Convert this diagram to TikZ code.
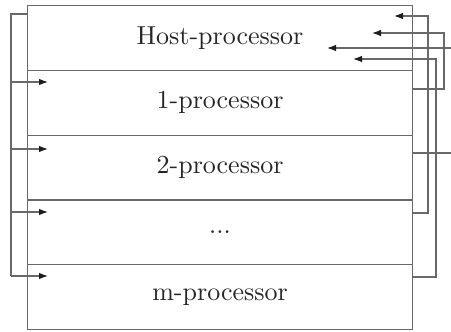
\documentclass[tikz,border=0pt]{standalone}
\usepackage{fontspec}
\usetikzlibrary{arrows.meta}
\newfontfamily\rowfont{lmroman10-regular.otf}
\definecolor{linegray}{RGB}{105,105,105}
\definecolor{tipgray}{RGB}{30,30,30}
\begin{document}
\begin{tikzpicture}[x=1pt,y=-1pt,
  row/.style={draw=linegray, line width=1.1pt, minimum width=385pt,
    minimum height=64.8pt, inner sep=0pt, anchor=north west,
    font=\rowfont\fontsize{26}{31}\selectfont, text=black!85},
  wire/.style={draw=linegray, line width=1.1pt},
  feed/.style={wire, -{Latex[length=9pt,width=6.5pt,color=tipgray]}}]
\useasboundingbox (0,0) rectangle (451,332);

% stacked processor rows
\node[row] (host) at (27,5)     {Host-processor};
\node[row] (p1)   at (27,69.8)  {1-processor};
\node[row] (p2)   at (27,134.6) {2-processor};
\node[row] (pd)   at (27,199.4) {...};
\node[row] (pm)   at (27,264.2) {m-processor};

% left distribution bus
\coordinate (bustop) at (11,14);
\coordinate (b1) at (11,82);
\coordinate (b2) at (11,149);
\coordinate (b3) at (11,212);
\coordinate (b4) at (11,276);
\draw[wire] (host.west |- bustop) -- (bustop) -- (b4);
\draw[feed] (b1) -- ([xshift=21pt]p1.west |- b1);
\draw[feed] (b2) -- ([xshift=21pt]p2.west |- b2);
\draw[feed] (b3) -- ([xshift=21pt]pd.west |- b3);
\draw[feed] (b4) -- ([xshift=21pt]pm.west |- b4);

% right return paths into the host row
\coordinate (ra) at (428,16);
\coordinate (rb) at (444,33);
\coordinate (rc) at (451,48);
\coordinate (rd) at (436,59);
\coordinate (ta) at (394,16);
\coordinate (tb) at (372,33);
\coordinate (tc) at (327,48);
\coordinate (td) at (353,59);
\coordinate (oa) at (428,213);
\coordinate (ob) at (444,89);
\coordinate (od) at (436,277);
\coordinate (oe) at (451,153);

\draw[feed] (pd.east |- oa) -- (oa) -- (ra) -- (ta);
\draw[feed] (p1.east |- ob) -- (ob) -- (rb) -- (tb);
\draw[feed] (rc) -- (tc);
\draw[feed] (pm.east |- od) -- (od) -- (rd) -- (td);
\draw[wire] (p2.east |- oe) -- (oe);
\end{tikzpicture}
\end{document}
